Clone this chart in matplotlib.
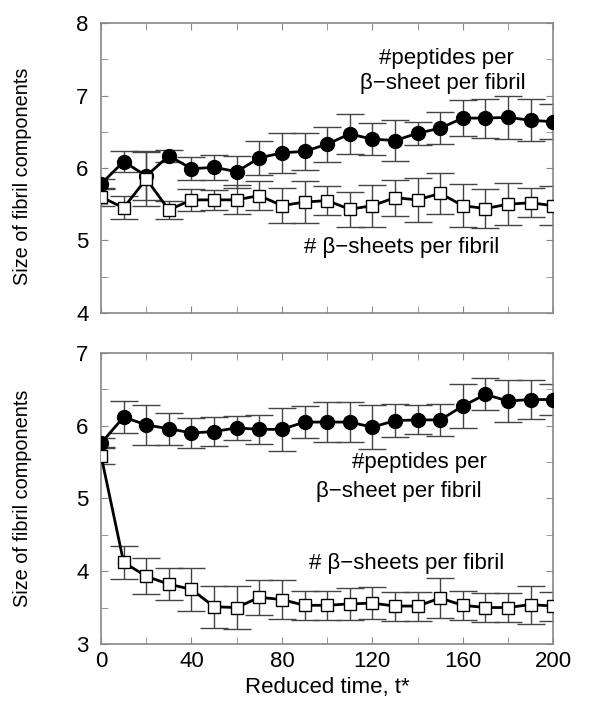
import matplotlib
matplotlib.use("Agg")
import matplotlib.pyplot as plt
from matplotlib.ticker import MultipleLocator
import numpy as np

plt.rcParams['font.family'] = ['Liberation Sans', 'DejaVu Sans']

t = [0, 10, 20, 30, 40, 50, 60, 70, 80, 90, 100, 110, 120, 130, 140, 150, 160, 170, 180, 190, 200]

# Top panel
top_peptides = [5.78, 6.09, 5.89, 6.17, 5.99, 6.01, 5.95, 6.14, 6.21, 6.23, 6.33, 6.47, 6.40, 6.38, 6.48, 6.55, 6.69, 6.69, 6.70, 6.66, 6.64]
top_peptides_err = [0.07, 0.15, 0.33, 0.08, 0.16, 0.17, 0.22, 0.24, 0.28, 0.26, 0.24, 0.27, 0.22, 0.28, 0.16, 0.22, 0.25, 0.27, 0.30, 0.29, 0.24]
top_sheets = [5.60, 5.45, 5.85, 5.42, 5.56, 5.56, 5.56, 5.62, 5.48, 5.53, 5.55, 5.43, 5.48, 5.59, 5.56, 5.65, 5.48, 5.44, 5.50, 5.52, 5.48]
top_sheets_err = [0.12, 0.16, 0.38, 0.12, 0.15, 0.14, 0.20, 0.20, 0.24, 0.29, 0.20, 0.24, 0.29, 0.25, 0.30, 0.28, 0.30, 0.27, 0.29, 0.20, 0.27]

# Bottom panel
bot_peptides = [5.76, 6.12, 6.01, 5.96, 5.90, 5.92, 5.97, 5.95, 5.95, 6.05, 6.05, 6.05, 5.98, 6.07, 6.08, 6.08, 6.27, 6.43, 6.34, 6.36, 6.36]
bot_peptides_err = [0.07, 0.22, 0.28, 0.22, 0.20, 0.20, 0.17, 0.20, 0.30, 0.22, 0.27, 0.27, 0.30, 0.23, 0.20, 0.22, 0.30, 0.22, 0.29, 0.27, 0.21]
bot_sheets = [5.59, 4.12, 3.93, 3.82, 3.75, 3.51, 3.50, 3.64, 3.61, 3.53, 3.53, 3.55, 3.56, 3.52, 3.52, 3.63, 3.53, 3.50, 3.50, 3.54, 3.52]
bot_sheets_err = [0.12, 0.23, 0.25, 0.22, 0.30, 0.29, 0.29, 0.24, 0.27, 0.20, 0.20, 0.22, 0.22, 0.20, 0.20, 0.28, 0.20, 0.20, 0.20, 0.26, 0.20]

ylabel = "Size of fibril components"
xlabel = "Reduced time, t*"
lab_pep1 = "#peptides per"
lab_pep2 = "β\u2212sheet per fibril"
lab_sheets = "# β\u2212sheets per fibril"

fig = plt.figure(figsize=(5.91, 7.06), dpi=100)
ax1 = fig.add_axes([0.171, 0.557, 0.765, 0.410])
ax2 = fig.add_axes([0.171, 0.088, 0.765, 0.412])

spine_c = '#888888'
err_c = '#444444'

def draw(ax, pep, pep_e, sh, sh_e, ylim):
    ax.errorbar(t, sh, yerr=sh_e, fmt='none', ecolor=err_c, elinewidth=1.0,
                capsize=10, capthick=1.0, zorder=1)
    ax.errorbar(t, pep, yerr=pep_e, fmt='none', ecolor=err_c, elinewidth=1.0,
                capsize=10, capthick=1.0, zorder=1)
    ax.plot(t, pep, '-', color='black', lw=2.0, marker='o', ms=10,
            mfc='black', mec='black', zorder=3)
    ax.plot(t, sh, '-', color='black', lw=2.0, marker='s', ms=8,
            mfc='white', mec='black', mew=1.0, zorder=4)
    ax.set_xlim(0, 200)
    ax.set_ylim(*ylim)
    ax.xaxis.set_major_locator(MultipleLocator(40))
    ax.xaxis.set_minor_locator(MultipleLocator(20))
    ax.yaxis.set_major_locator(MultipleLocator(1))
    ax.yaxis.set_minor_locator(MultipleLocator(0.5))
    ax.tick_params(which='both', direction='in', top=True, right=True,
                   length=5, color=spine_c, labelsize=16)
    ax.tick_params(axis='y', pad=9)
    ax.tick_params(axis='x', pad=5)
    for s in ax.spines.values():
        s.set_color(spine_c)
        s.set_linewidth(1.2)
    ax.set_ylabel(ylabel, fontsize=14.3)

draw(ax1, top_peptides, top_peptides_err, top_sheets, top_sheets_err, (4, 8))
draw(ax2, bot_peptides, bot_peptides_err, bot_sheets, bot_sheets_err, (3, 7))
ax1.tick_params(labelbottom=False)
ax1.yaxis.set_label_coords(-0.153, 0.47)
ax2.yaxis.set_label_coords(-0.153, 0.50)
ax2.set_xlabel(xlabel, fontsize=16, labelpad=4)

fs = 16
ax1.text(153, 7.52, lab_pep1, ha='center', va='center', fontsize=fs)
ax1.text(151, 7.17, lab_pep2, ha='center', va='center', fontsize=fs)
ax1.text(133, 4.90, lab_sheets, ha='center', va='center', fontsize=fs)

ax2.text(141, 5.49, lab_pep1, ha='center', va='center', fontsize=fs)
ax2.text(131.5, 5.09, lab_pep2, ha='center', va='center', fontsize=fs)
ax2.text(135, 4.11, lab_sheets, ha='center', va='center', fontsize=fs)

fig.savefig("out.png", dpi=100)
